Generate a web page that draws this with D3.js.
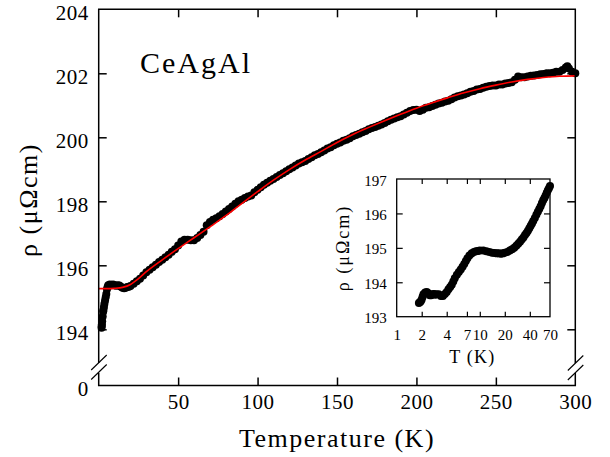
<!DOCTYPE html>
<html><head><meta charset="utf-8">
<script src="https://cdn.jsdelivr.net/npm/d3@7"></script>
<style>
body{margin:0;background:#fff}
svg{display:block}
text{font-family:"Liberation Serif","Times New Roman",serif;fill:#000}
</style>
</head><body>
<svg id="c" width="610" height="457"></svg>
<script>
// ---- data ----
const mainT = [1.8,1.9,2.0,2.2,2.5,2.8,3.0,3.3,3.6,4.0,4.4,4.8,5.2,5.6,6,7,8,9,10,11,12,13,14,15,16,17,18,19,20,22,24,26,28,30,32,34,36,38,40,42,44,46,48,50,52,54,56,58,60,62,64,66,68,70,72,74,76,78,80,82,84,86,88,90,92,94,96,98,100,102,104,106,108,110,112,114,116,118,120,122,124,126,128,130,132,134,136,138,140,142,144,146,148,150,152,154,156,158,160,162,164,166,168,170,172,174,176,178,180,182,184,186,188,190,192,194,196,198,200,202,204,206,208,210,212,214,216,218,220,222,224,226,228,230,232,234,236,238,240,242,244,246,248,250,252,254,256,258,260,262,264,266,268,270,272,274,276,278,280,282,284,286,288,290,292,294,295,296,298,300];
const mainRho = [194.05,194.10,194.15,194.25,194.40,194.55,194.60,194.70,194.80,194.90,195.00,195.10,195.25,195.32,195.38,195.40,195.38,195.40,195.38,195.36,195.38,195.37,195.33,195.30,195.28,195.30,195.32,195.33,195.35,195.42,195.50,195.58,195.68,195.78,195.86,195.94,196.02,196.10,196.17,196.25,196.33,196.42,196.50,196.62,196.74,196.80,196.80,196.78,196.78,196.85,196.95,197.05,197.25,197.35,197.42,197.47,197.53,197.60,197.68,197.76,197.84,197.92,198.00,198.05,198.10,198.15,198.18,198.28,198.36,198.44,198.52,198.58,198.64,198.70,198.76,198.82,198.88,198.94,199.00,199.06,199.12,199.18,199.22,199.26,199.32,199.38,199.44,199.48,199.53,199.59,199.65,199.69,199.75,199.80,199.84,199.89,199.92,199.97,200.03,200.07,200.11,200.16,200.20,200.25,200.29,200.32,200.36,200.40,200.45,200.50,200.55,200.59,200.63,200.66,200.71,200.77,200.82,200.85,200.86,200.82,200.86,200.92,200.94,200.98,201.02,201.06,201.08,201.12,201.14,201.19,201.24,201.28,201.31,201.34,201.38,201.42,201.45,201.49,201.51,201.55,201.58,201.60,201.62,201.62,201.65,201.65,201.68,201.70,201.72,201.80,201.90,201.88,201.88,201.90,201.92,201.93,201.95,201.97,201.98,202.00,202.00,202.02,202.05,202.05,202.10,202.18,202.22,202.15,202.05,202.00];
const fitT = [0,5,10,15,20,25,30,40,50,60,70,80,90,100,110,120,130,140,150,160,170,180,190,200,210,220,230,240,250,260,270,280,290,300];
const fitRho = [195.27,195.27,195.28,195.31,195.40,195.58,195.80,196.17,196.52,196.86,197.20,197.55,197.93,198.30,198.66,198.99,199.29,199.56,199.84,200.09,200.31,200.52,200.72,200.91,201.08,201.24,201.39,201.52,201.63,201.73,201.81,201.87,201.91,201.92];
const insetT = [1.85,1.9,1.95,2.0,2.05,2.1,2.2,2.3,2.4,2.5,2.6,2.7,2.8,2.9,3.0,3.2,3.4,3.6,3.8,4.0,4.2,4.4,4.6,4.8,5.0,5.3,5.6,5.9,6.2,6.5,6.8,7.1,7.5,8.0,8.5,9.0,9.5,10,11,12,13,14,15,16,17,18,19,20,21.5,23,24.5,26,27.5,29,30.5,32,33.5,35,36.5,38,39.5,41,42.5,44,46,48,50,52,54,56,58,60,62,64,66,68,70];
const insetRho = [193.40,193.42,193.45,193.50,193.58,193.65,193.70,193.72,193.68,193.62,193.62,193.65,193.66,193.64,193.65,193.65,193.60,193.60,193.66,193.72,193.80,193.86,193.93,194.02,194.12,194.22,194.30,194.37,194.45,194.53,194.62,194.70,194.78,194.84,194.88,194.90,194.91,194.92,194.92,194.90,194.88,194.86,194.85,194.84,194.84,194.83,194.84,194.86,194.88,194.92,194.96,195.00,195.06,195.12,195.18,195.24,195.30,195.37,195.43,195.50,195.57,195.64,195.71,195.78,195.87,195.96,196.05,196.13,196.21,196.30,196.38,196.45,196.52,196.60,196.67,196.73,196.80];
const xTicks = [50,100,150,200,250,300];
const yTicks = [194,196,198,200,202,204];
const yBreakLabel = "0";
const insetXTicks = [1,2,4,7,10,20,40,70];
const insetYTicks = [193,194,195,196,197];
const compound = "CeAgAl";
const xLabel = "Temperature (K)";
const yLabel = "ρ (μΩcm)";
const insetXLabel = "T (K)";

// ---- layout ----
const L = 98.7, R = 575.3, T = 9.3, B = 385.5;
const svg = d3.select("#c");
const x = d3.scaleLinear().domain([0,300]).range([L,R]);
const y = d3.scaleLinear().domain([194,204]).range([329.3,T]);

// data dots
svg.append("g").selectAll("circle").data(mainT).join("circle")
  .attr("cx",(d)=>x(d)).attr("cy",(d,i)=>y(mainRho[i])).attr("r",4).attr("fill","#000");

// fit line
svg.append("path").datum(fitT.map((t,i)=>[t,fitRho[i]]))
  .attr("d",d3.line().x(d=>x(d[0])).y(d=>y(d[1])).curve(d3.curveMonotoneX))
  .attr("fill","none").attr("stroke","#ff0000").attr("stroke-width",1.6);

// frame with breaks
const fr = svg.append("g").attr("stroke","#000").attr("stroke-width",1.5).attr("fill","none");
const gapTop = 363, gapBot = 373;
fr.append("path").attr("d",`M${L},${gapTop}V${T}H${R}V${gapTop}M${L},${gapBot}V${B}H${R}V${gapBot}`);
[[L,0],[R,0.5]].forEach(([ax,off])=>{
  [0,9.5].forEach(dy=>{
    fr.append("line").attr("x1",ax-7.5).attr("y1",370+dy+off).attr("x2",ax+8).attr("y2",355+dy+off).attr("stroke-width",1.1);
  });
});

// axes
const fs = 21;
const gB = svg.append("g").attr("transform",`translate(0,${B})`)
  .call(d3.axisBottom(x).tickValues(xTicks).tickSize(-8).tickPadding(9));
const gTop = svg.append("g").attr("transform",`translate(0,${T})`)
  .call(d3.axisTop(x).tickValues(xTicks.slice(0,-1)).tickSize(-8).tickFormat(""));
const gL = svg.append("g").attr("transform",`translate(${L},0)`)
  .call(d3.axisLeft(y).tickValues(yTicks).tickSize(-8).tickPadding(10));
const gR = svg.append("g").attr("transform",`translate(${R},0)`)
  .call(d3.axisRight(y).tickValues(yTicks.slice(0,-1)).tickSize(-8).tickFormat(""));
[gB,gTop,gL,gR].forEach(g=>{
  g.select(".domain").remove();
  g.selectAll(".tick line").attr("stroke","#000").attr("stroke-width",1.5);
  g.selectAll("text").attr("font-size",fs).attr("font-family",null).attr("fill","#000").style("letter-spacing","0.5px");
});
gB.selectAll(".tick").filter(d=>d===300).select("line").remove();
gL.selectAll(".tick").filter(d=>d===204).select("line").remove();
gL.selectAll("text").attr("dy","0.5em");
svg.append("text").attr("x",L-10).attr("y",B).attr("dy","0.5em").attr("text-anchor","end")
  .attr("font-size",fs).style("letter-spacing","0.5px").text(yBreakLabel);

// titles
svg.append("text").attr("x",140).attr("y",73).attr("font-size",30).style("letter-spacing","2px").text(compound);
svg.append("text").attr("x",(L+R)/2).attr("y",446.5).attr("text-anchor","middle").attr("font-size",26)
  .style("letter-spacing","1.5px").text(xLabel);
svg.append("text").attr("transform","translate(37,200) rotate(-90)").attr("text-anchor","middle")
  .attr("font-size",26).style("letter-spacing","1.5px").text(yLabel);

// ---- inset ----
const iL = 396.7, iR = 550, iT = 179, iB = 316.7;
const ix = d3.scaleLog().domain([1,70]).range([iL,iR]);
const iy = d3.scaleLinear().domain([193,197]).range([iB,iT]);
svg.append("rect").attr("x",iL).attr("y",iT).attr("width",iR-iL).attr("height",iB-iT)
  .attr("fill","none").attr("stroke","#000").attr("stroke-width",1.3);
svg.append("g").selectAll("circle").data(insetT).join("circle")
  .attr("cx",d=>ix(d)).attr("cy",(d,i)=>iy(insetRho[i])).attr("r",4).attr("fill","#000");
const ifs = 15;
const igB = svg.append("g").attr("transform",`translate(0,${iB})`)
  .call(d3.axisBottom(ix).tickValues(insetXTicks).tickSize(-5).tickPadding(13).tickFormat(d3.format("d")));
const igT = svg.append("g").attr("transform",`translate(0,${iT})`)
  .call(d3.axisTop(ix).tickValues(insetXTicks.slice(1,-1)).tickSize(-5).tickFormat(""));
const igL = svg.append("g").attr("transform",`translate(${iL},0)`)
  .call(d3.axisLeft(iy).tickValues(insetYTicks).tickSize(-6).tickPadding(10).tickFormat(d3.format("d")));
const igR = svg.append("g").attr("transform",`translate(${iR},0)`)
  .call(d3.axisRight(iy).tickValues(insetYTicks.slice(1,-1)).tickSize(-6).tickFormat(""));
[igB,igT,igL,igR].forEach(g=>{
  g.select(".domain").remove();
  g.selectAll(".tick line").attr("stroke","#000").attr("stroke-width",1.2);
  g.selectAll("text").attr("font-size",ifs).attr("font-family",null).attr("fill","#000");
});
igB.selectAll(".tick").filter(d=>d===1||d===70).select("line").remove();
igL.selectAll(".tick").filter(d=>d===193||d===197).select("line").remove();
igL.selectAll("text").attr("dy","0.4em");
svg.append("text").attr("x",(iL+iR)/2-1).attr("y",363).attr("text-anchor","middle").attr("font-size",18)
  .style("letter-spacing","1.2px").text(insetXLabel);
svg.append("text").attr("transform","translate(349,248) rotate(-90)").attr("text-anchor","middle")
  .attr("font-size",18).style("letter-spacing","2px").text(yLabel);
</script>
</body></html>
